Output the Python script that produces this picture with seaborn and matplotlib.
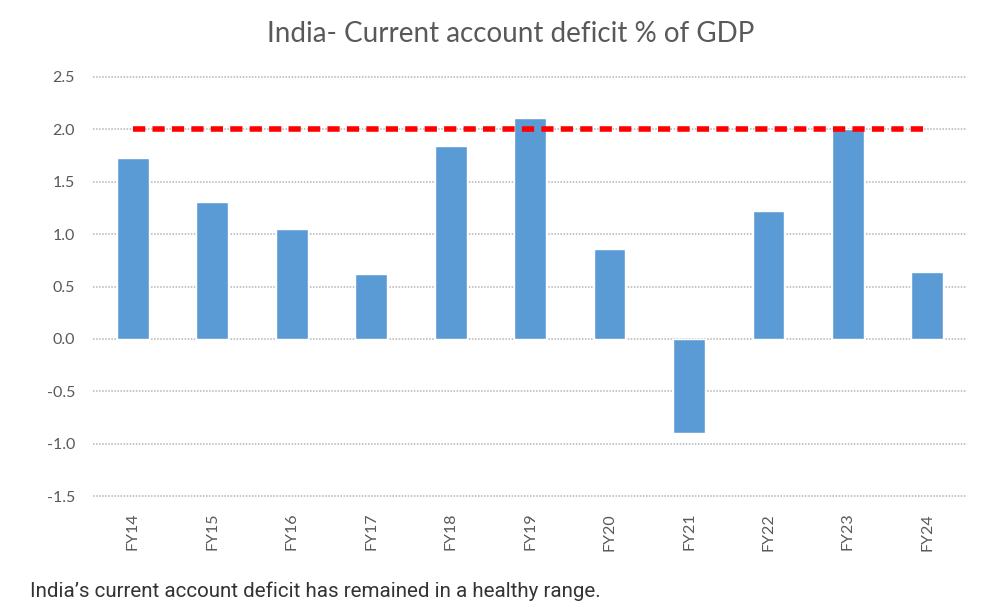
import matplotlib
matplotlib.use('Agg')
import matplotlib.pyplot as plt
import pandas as pd
import seaborn as sns

years = ['FY14', 'FY15', 'FY16', 'FY17', 'FY18', 'FY19', 'FY20', 'FY21', 'FY22', 'FY23', 'FY24']
cad = [1.73, 1.31, 1.05, 0.62, 1.84, 2.11, 0.86, -0.90, 1.22, 2.0, 0.64]
threshold = [2.0] * len(years)

df = pd.DataFrame({'year': years, 'cad': cad, 'threshold': threshold})

sns.set_style('white')
plt.rcParams['font.family'] = ['Lato', 'DejaVu Sans']

fig = plt.figure(figsize=(10.07, 6.11), dpi=100)
ax = fig.add_axes([0.0924, 0.188, 0.868, 0.686])

sns.barplot(data=df, x='year', y='cad', color='#5B9BD5', saturation=1, width=0.4, ax=ax)
sns.lineplot(x=list(range(len(years))), y=df['threshold'], color='#FF0000', linewidth=4,
             linestyle=(0, (2.2, 1.3)), ax=ax)

ax.set_ylim(-1.5, 2.5)
ax.set_xlim(-0.5, len(years) - 0.5)
ax.set_yticks([-1.5, -1.0, -0.5, 0.0, 0.5, 1.0, 1.5, 2.0, 2.5])
ax.set_yticklabels([f'{v:.1f}' for v in ax.get_yticks()])
ax.set_xlabel('')
ax.set_ylabel('')
ax.grid(axis='y', color='#b4b4b4', linestyle=(0, (1, 1)), linewidth=1.1, clip_on=False)
ax.set_axisbelow(True)
sns.despine(ax=ax, left=True, bottom=True)
ax.tick_params(axis='y', colors='#595959', labelsize=11.5, length=0, pad=13)
ax.tick_params(axis='x', colors='#595959', labelsize=11.5, length=0, pad=12, rotation=90)

fig.text(0.507, 0.944, 'India- Current account deficit % of GDP', ha='center', va='center',
         fontsize=20, color='#595959')
fig.text(0.03, 0.032, 'India\u2019s current account deficit has remained in a healthy range.',
         ha='left', va='center', fontsize=14.8, color='#333333', family=['Roboto', 'DejaVu Sans'])

fig.savefig('out.png', dpi=100)
